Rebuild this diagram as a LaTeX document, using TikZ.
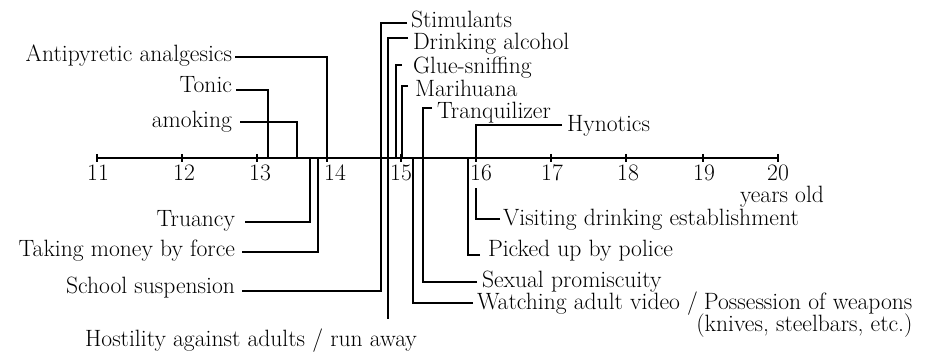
\documentclass[tikz,border=0pt]{standalone}
\usepackage{fontspec}
\begin{document}
\begin{tikzpicture}[x=1pt,y=-1pt,
  lab/.style={inner sep=0pt, outer sep=0pt, text=black, font=\fontsize{23.6}{27}\selectfont},
  ln/.style={line width=1.2pt, draw=black}]
\useasboundingbox (0,0) rectangle (932,352);
% axis
\foreach \n/\x/\lx in {11/97/98,12/182/184,13/257/260,14/327/335,15/401/401,16/476/481,17/551/552,18/626/628,19/703/704,20/778/778}{
  \coordinate (t\n) at (\x,158);
  \draw[ln] (\x,154) -- (\x,162);
  \node[lab,anchor=base] (n\n) at (\lx,181) {\n};
}
\draw[ln] (t11) -- (t20);
\node[lab,anchor=base west] (years) at (740,203) {years old};
\foreach \x in {268,297,310,318,327,381,388,396,402,413,423,468,476}
  \coordinate (a\x) at (\x,158);
% upper left
\node[lab,anchor=base east] (anti) at (232,62) {Antipyretic analgesics};
\draw[ln] ([xshift=3pt,yshift=5pt]anti.base east) -| (a327);
\node[lab,anchor=base east] (tonic) at (232,93) {Tonic};
\draw[ln] ([xshift=4pt,yshift=3pt]tonic.base east) -| (a268);
\node[lab,anchor=base east] (amok) at (232,128) {amoking};
\draw[ln] ([xshift=8pt,yshift=6pt]amok.base east) -| (a297);
% lower left
\node[lab,anchor=base east] (truancy) at (235,227) {Truancy};
\draw[ln] ([xshift=10pt,yshift=5pt]truancy.base east) -| (a310);
\node[lab,anchor=base east] (money) at (235,257) {Taking money by force};
\draw[ln] ([xshift=7pt,yshift=5pt]money.base east) -| (a318);
\node[lab,anchor=base east] (school) at (235,294) {School suspension};
\draw[ln] ([xshift=7pt,yshift=3pt]school.base east) -| (a381);
\node[lab,anchor=base] (hostil) at (251,347) {Hostility against adults / run away};
% upper right
\node[lab,anchor=base west] (stim) at (411,28) {Stimulants};
\draw[ln] ([xshift=-4pt,yshift=5pt]stim.base west) -| (a381);
\node[lab,anchor=base west] (drink) at (413,50) {Drinking alcohol};
\draw[ln] ([xshift=-5pt,yshift=12pt]drink.base west) -| (a388);
\draw[ln, shorten >=10pt] (a388) -- (a388 |- hostil.north);
\node[lab,anchor=base west] (glue) at (413,74) {Glue-sniffing};
\draw[ln] ([xshift=-11pt,yshift=9pt]glue.base west) -| (a396);
\node[lab,anchor=base west] (mari) at (415,97) {Marihuana};
\draw[ln] ([xshift=-7pt,yshift=11pt]mari.base west) -| (a402);
\node[lab,anchor=base west] (tranq) at (437,119) {Tranquilizer};
\draw[ln] ([xshift=-5pt,yshift=11pt]tranq.base west) -| (a423);
\node[lab,anchor=base west] (hyno) at (567,132) {Hynotics};
\draw[ln] ([xshift=-5pt,yshift=7pt]hyno.base west) -| (a476);
% lower right
\coordinate (v16) at (476,188);
\node[lab,anchor=base west] (visit) at (503,226) {Visiting drinking establishment};
\draw[ln] ([xshift=-3pt,yshift=7pt]visit.base west) -| (v16);
\node[lab,anchor=base west] (picked) at (488,257) {Picked up by police};
\draw[ln] ([xshift=-8pt,yshift=2pt]picked.base west) -| (a468);
\node[lab,anchor=base west] (sexual) at (482,288) {Sexual promiscuity};
\draw[ln] ([xshift=-5pt,yshift=6pt]sexual.base west) -| (a423);
\node[lab,anchor=base west] (watch) at (477,310) {Watching adult video /};
\draw[ln] ([xshift=-4pt,yshift=7pt]watch.base west) -| (a413);
\node[lab,anchor=base west] (poss) at ([xshift=6pt]watch.base east) {Possession of weapons};
\node[lab,anchor=base east] (knives) at ([yshift=-22pt]poss.base east) {(knives, steelbars, etc.)};
\end{tikzpicture}
\end{document}
